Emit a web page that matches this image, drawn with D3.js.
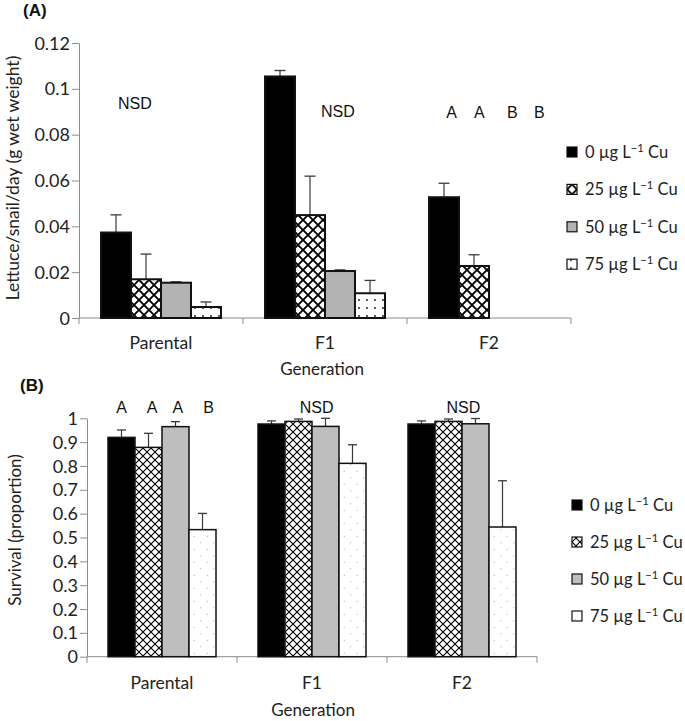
<!DOCTYPE html>
<html>
<head>
<meta charset="utf-8">
<script src="https://cdn.jsdelivr.net/npm/d3@7"></script>
<style>
  html, body { margin: 0; padding: 0; background: #fff; }
  svg { display: block; }
  .lbl { font-family: Lato, "Open Sans", sans-serif; fill: #222; }
  .ann { font-family: "Liberation Sans", Arial, sans-serif; fill: #111; }
</style>
</head>
<body>
<svg id="chart" width="685" height="721"></svg>
<script>
// ---------------- data ----------------
const generations = ["Parental", "F1", "F2"];
const treatments = ["0", "25", "50", "75"];            // µg L-1 Cu
const feedingTicks = [0, 0.02, 0.04, 0.06, 0.08, 0.1, 0.12];
const survivalTicks = [0, 0.1, 0.2, 0.3, 0.4, 0.5, 0.6, 0.7, 0.8, 0.9, 1];

// Panel A: lettuce consumed per snail per day (g wet weight)
const feedingParental = [0.0373, 0.0169, 0.0154, 0.0048];
const feedingF1       = [0.1054, 0.0449, 0.0205, 0.0108];
const feedingF2       = [0.0527, 0.0227, 0, 0];
const feedingSEParental = [0.0077, 0.0110, 0.0004, 0.0022];
const feedingSEF1       = [0.0026, 0.0170, 0.0005, 0.0056];
const feedingSEF2       = [0.0061, 0.0049, 0, 0];

// Panel B: survival (proportion)
const survivalParental = [0.920, 0.878, 0.965, 0.533];
const survivalF1       = [0.976, 0.987, 0.966, 0.811];
const survivalF2       = [0.976, 0.987, 0.977, 0.544];
const survivalSEParental = [0.031, 0.059, 0.021, 0.068];
const survivalSEF1       = [0.013, 0.010, 0.034, 0.078];
const survivalSEF2       = [0.013, 0.010, 0.022, 0.194];

// significance letters: [generation, slot (bar units within group), value level, text]
const feedingLetters = [
  ["Parental", 1.13, 0.0914, "NSD"],
  ["F1", 2.43, 0.0875, "NSD"],
  ["F2", 0.75, 0.0872, "A"],
  ["F2", 1.68, 0.0872, "A"],
  ["F2", 2.78, 0.0872, "B"],
  ["F2", 3.68, 0.0872, "B"]
];
const survivalLetters = [
  ["Parental", 0.5, 1.022, "A"],
  ["Parental", 1.63, 1.022, "A"],
  ["Parental", 2.59, 1.022, "A"],
  ["Parental", 3.73, 1.022, "B"],
  ["F1", 2.17, 1.022, "NSD"],
  ["F2", 2.05, 1.022, "NSD"]
];

// ---------------- drawing ----------------
const svg = d3.select("#chart");
const defs = svg.append("defs");

function addCross(id, size, sw) {
  const p = defs.append("pattern").attr("id", id).attr("patternUnits", "userSpaceOnUse")
    .attr("width", size).attr("height", size);
  p.append("rect").attr("width", size).attr("height", size).attr("fill", "#fff");
  p.append("path").attr("d", `M0,0L${size},${size}M${size},0L0,${size}`)
    .attr("stroke", "#000").attr("stroke-width", sw).attr("fill", "none");
}
function addDots(id, size, r, col, stagger) {
  const p = defs.append("pattern").attr("id", id).attr("patternUnits", "userSpaceOnUse")
    .attr("width", size).attr("height", size);
  p.append("rect").attr("width", size).attr("height", size).attr("fill", "#fff");
  if (stagger) {
    p.append("circle").attr("cx", size / 4).attr("cy", size / 4).attr("r", r).attr("fill", col);
    p.append("circle").attr("cx", size * 3 / 4).attr("cy", size * 3 / 4).attr("r", r).attr("fill", col);
  } else {
    p.append("circle").attr("cx", size / 2).attr("cy", size / 2).attr("r", r).attr("fill", col);
  }
}
addCross("crossA", 10, 1.9);
addCross("crossB", 8, 1.1);
addDots("dotsA", 8, 0.9, "#111", false);
addDots("dotsB", 13, 0.6, "#9a9a9a", true);

function legendText(sel, t) {
  sel.append("tspan").text(t + " \u00b5g L");
  sel.append("tspan").attr("dy", -6).attr("font-size", "0.68em").text("\u22121");
  sel.append("tspan").attr("dy", 6).text(" Cu");
}

function drawPanel(cfg) {
  const g = svg.append("g");
  const y = d3.scaleLinear().domain(cfg.domain).range([cfg.y0, cfg.y1]);
  const x0 = d3.scaleBand().domain(generations).range([cfg.xl, cfg.xr]);
  const x1 = d3.scaleBand().domain(treatments).range([cfg.inset, x0.bandwidth() - cfg.inset]);
  const bw = x1.bandwidth();

  // y axis
  const ya = g.append("g").attr("transform", `translate(${cfg.xl},0)`)
    .call(d3.axisLeft(y).tickValues(cfg.ticks).tickSize(7).tickSizeOuter(0)
      .tickFormat(d => d === 0 ? "0" : String(+d.toFixed(2))));
  ya.select(".domain").attr("stroke", "#8c8c8c");
  ya.selectAll(".tick line").attr("stroke", "#8c8c8c");
  ya.selectAll(".tick text").attr("class", "lbl").attr("font-size", cfg.tickFs)
    .attr("x", -9).attr("dy", "0.34em");

  // x axis
  const xa = g.append("g").attr("transform", `translate(0,${cfg.y0})`);
  xa.append("line").attr("x1", cfg.xl).attr("x2", cfg.xr).attr("stroke", "#8c8c8c");
  const bounds = generations.map(d => x0(d)).concat([cfg.xr]);
  xa.selectAll("line.b").data(bounds).join("line").attr("class", "b")
    .attr("x1", d => d).attr("x2", d => d).attr("y1", 0).attr("y2", 6).attr("stroke", "#8c8c8c");
  xa.selectAll("text").data(generations).join("text").attr("class", "lbl")
    .attr("x", d => x0(d) + x0.bandwidth() / 2).attr("y", cfg.catDy)
    .attr("text-anchor", "middle").attr("font-size", cfg.catFs).text(d => d);

  // bars
  const rows = generations.map((gen, gi) => ({ gen, vals: cfg.values[gi], se: cfg.se[gi] }));
  const grp = g.selectAll("g.grp").data(rows).join("g").attr("class", "grp")
    .attr("transform", d => `translate(${x0(d.gen)},0)`);
  const items = grp.selectAll("g.bar").data(d => d.vals.map((v, i) => ({ v, se: d.se[i], t: treatments[i], i })))
    .join("g").attr("class", "bar");
  items.filter(d => d.v > 0 && d.se > 0).each(function (d) {
    const s = d3.select(this);
    const cx = x1(d.t) + bw / 2;
    s.append("line").attr("x1", cx).attr("x2", cx).attr("y1", y(d.v)).attr("y2", y(d.v + d.se))
      .attr("stroke", "#3a3a3a").attr("stroke-width", 1.2);
    s.append("line").attr("x1", cx - cfg.cap).attr("x2", cx + cfg.cap)
      .attr("y1", y(d.v + d.se)).attr("y2", y(d.v + d.se))
      .attr("stroke", "#3a3a3a").attr("stroke-width", 1.3);
  });
  items.filter(d => d.v > 0).append("rect")
    .attr("x", d => x1(d.t)).attr("width", bw)
    .attr("y", d => y(d.v)).attr("height", d => y(0) - y(d.v))
    .attr("fill", d => cfg.fills[d.i]).attr("stroke", "#111").attr("stroke-width", cfg.sw);

  // letters
  g.selectAll("text.ann").data(cfg.letters).join("text").attr("class", "ann")
    .attr("x", d => x0(d[0]) + cfg.inset + d[1] * bw)
    .attr("y", d => y(d[2])).attr("text-anchor", "middle")
    .attr("font-size", 16).text(d => d[3]);

  // titles
  g.append("text").attr("class", "lbl").attr("font-size", cfg.titleFs)
    .attr("transform", `translate(${cfg.ytX},${cfg.ytY}) rotate(-90)`)
    .attr("text-anchor", "middle").attr("dy", "0.35em").text(cfg.yTitle);
  g.append("text").attr("class", "lbl").attr("font-size", cfg.xtFs)
    .attr("x", cfg.xtX).attr("y", cfg.xtY).attr("text-anchor", "middle").text("Generation");
  g.append("text").attr("font-family", "'Liberation Sans', Arial, sans-serif").attr("font-weight", "bold")
    .attr("font-size", 17).attr("x", cfg.panelX).attr("y", cfg.panelY).attr("fill", "#111").text(cfg.panel);

  // legend
  const lg = g.append("g");
  const li = lg.selectAll("g").data(treatments).join("g")
    .attr("transform", (d, i) => `translate(${cfg.legX},${cfg.legY + i * cfg.legStep})`);
  li.append("rect").attr("x", 0).attr("y", -5).attr("width", 10).attr("height", 10)
    .attr("fill", (d, i) => cfg.fills[i]).attr("stroke", "#111").attr("stroke-width", 1.2);
  li.append("text").attr("class", "lbl").attr("x", 18).attr("y", 0).attr("dy", "0.36em")
    .attr("font-size", 16.5).each(function (d) { legendText(d3.select(this), d); });
}

drawPanel({
  panel: "(A)", panelX: 23, panelY: 16,
  domain: [0, 0.12], y0: 318, y1: 43, xl: 79, xr: 571, inset: 22,
  ticks: feedingTicks, tickFs: 18, catFs: 17.5, catDy: 31, titleFs: 17.5, xtFs: 17,
  values: [feedingParental, feedingF1, feedingF2],
  se: [feedingSEParental, feedingSEF1, feedingSEF2],
  fills: ["#000", "url(#crossA)", "#b3b3b3", "url(#dotsA)"],
  sw: 2, cap: 5.5, letters: feedingLetters,
  yTitle: "Lettuce/snail/day (g wet weight)", ytX: 13, ytY: 178,
  xtX: 322, xtY: 375,
  legX: 567, legY: 152, legStep: 37.4
});

drawPanel({
  panel: "(B)", panelX: 20, panelY: 391,
  domain: [0, 1], y0: 656.7, y1: 418.3, xl: 87, xr: 537, inset: 21,
  ticks: survivalTicks, tickFs: 18, catFs: 17.5, catDy: 32, titleFs: 17, xtFs: 17,
  values: [survivalParental, survivalF1, survivalF2],
  se: [survivalSEParental, survivalSEF1, survivalSEF2],
  fills: ["#000", "url(#crossB)", "#bebebe", "url(#dotsB)"],
  sw: 1.5, cap: 4.5, letters: survivalLetters,
  yTitle: "Survival (proportion)", ytX: 15, ytY: 530,
  xtX: 313, xtY: 716,
  legX: 572, legY: 505, legStep: 37
});
</script>
</body>
</html>
